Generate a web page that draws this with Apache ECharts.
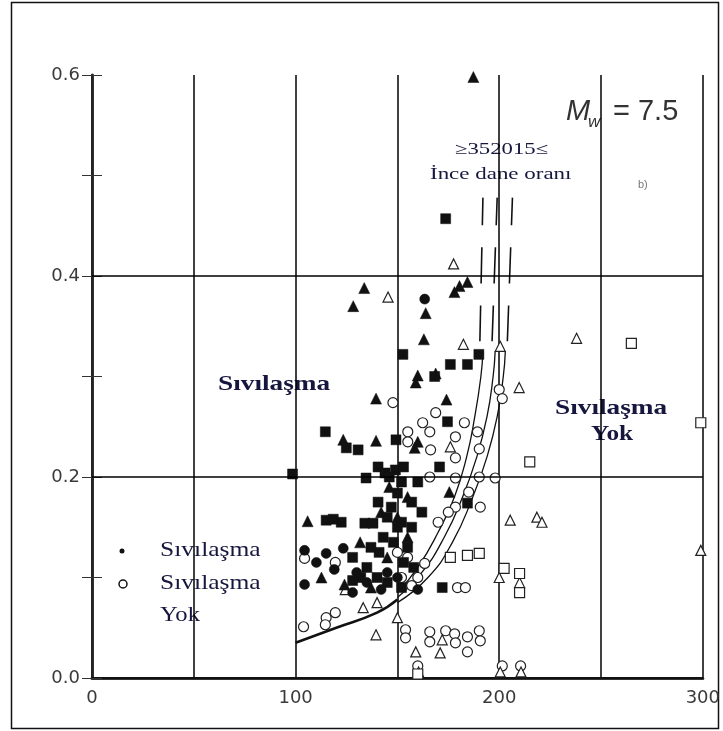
<!DOCTYPE html>
<html>
<head>
<meta charset="utf-8">
<script src="https://cdn.jsdelivr.net/npm/echarts@6/dist/echarts.min.js"></script>
<style>
html,body{margin:0;padding:0;background:#fff;}
#main{width:723px;height:731px;}
</style>
</head>
<body>
<div id="main"></div>
<script>
// eksen
var xTicks=[0,100,200,300];
var yTicks=[0.0,0.2,0.4,0.6];
var yGrid=[0.2,0.4];

// Sıvılaşma (dolu işaretler)
var sivTri=[[187.3,0.598],[133.7,0.388],[128.3,0.370],[184.4,0.394],[178,0.384],[180.5,0.390],[163.9,0.363],[163,0.337],
	[160,0.301],[168.8,0.303],[159,0.294],[174.1,0.277],[139.5,0.278],[123.4,0.237],[139.5,0.236],[160,0.235],[158.5,0.229],
	[105.9,0.156],[131.7,0.135],[112.7,0.100],[124,0.093],[150,0.16],[155,0.14],[145,0.12],[137,0.09],[175.5,0.185],[142,0.165],
	[146,0.19],[155,0.18]];
var sivSq=[[173.7,0.457],[152.7,0.322],[176,0.312],[184.4,0.312],[190,0.322],[168.3,0.300],[174.6,0.255],[114.6,0.245],
	[124.9,0.229],[130.7,0.227],[149.3,0.237],[98.5,0.203],[134.6,0.199],[140.5,0.210],[143.9,0.204],[149,0.207],[153,0.21],
	[170.7,0.210],[115,0.157],[122.4,0.155],[118.5,0.158],[140.5,0.175],[134,0.154],[138,0.154],[147,0.17],[157,0.175],
	[184.4,0.174],[150,0.184],[160,0.195],[162,0.165],[145,0.16],[150,0.15],[155,0.13],[140,0.1],[135,0.11],[145,0.095],
	[152,0.09],[158,0.11],[172,0.09],[148,0.135],[141,0.125],[132,0.1],[128,0.097],[153,0.115],[128,0.12],[137,0.13],
	[143,0.14],[152,0.155],[157,0.15],[152,0.195],[146,0.2]];
var sivCir=[[163.4,0.377],[104.4,0.127],[104.4,0.093],[110.2,0.115],[115,0.124],[123.4,0.129],[119,0.108],[130,0.105],
	[135,0.095],[145,0.105],[128,0.085],[160,0.088],[142,0.088],[150,0.1]];

// Sıvılaşma yok (boş işaretler)
var yokCir=[[147.8,0.274],[168.8,0.264],[162.4,0.254],[165.9,0.245],[182.9,0.254],[178.5,0.240],[155.1,0.245],[189.3,0.245],
	[190.2,0.228],[166.3,0.227],[178.5,0.219],[165.9,0.200],[178.5,0.199],[190.2,0.200],[198,0.199],[200,0.287],[201.5,0.278],
	[155.1,0.235],[190.7,0.170],[178.5,0.170],[163.4,0.114],[179.5,0.090],[183.4,0.090],[104.4,0.119],[119.5,0.115],
	[103.9,0.051],[115,0.060],[119.5,0.065],[114.6,0.053],[154,0.048],[154,0.040],[165.9,0.046],[165.9,0.036],[173.7,0.047],
	[178.1,0.044],[178.5,0.035],[184.4,0.041],[184.4,0.026],[190.2,0.047],[190.7,0.037],[152,0.1],[157,0.092],[160,0.1],
	[150,0.125],[155,0.12],[170,0.155],[175,0.165],[185,0.185],[160,0.012],[201.5,0.012],[210.5,0.012]];
var yokTri=[[145.4,0.379],[177.6,0.412],[182.4,0.332],[200.5,0.330],[209.8,0.289],[238,0.338],[205.4,0.157],[218.5,0.160],
	[221,0.155],[299,0.127],[124.4,0.088],[133.2,0.070],[139.5,0.043],[172,0.038],[159,0.026],[171,0.025],[176,0.23],
	[200,0.1],[160.4,0.006],[200.5,0.006],[210.7,0.006],[210,0.095],[150,0.06],[140,0.075]];
var yokSq=[[264.9,0.333],[299,0.254],[215,0.215],[184.4,0.122],[190.2,0.124],[176,0.120],[202.4,0.109],[210,0.104],
	[210,0.085],[160,0.004]];

// sınır eğrileri
var egriOrtak=[[100,0.035],[120,0.05],[140,0.065],[150,0.078]];
var egri35=[[150,0.085],[160,0.11],[170,0.145],[178,0.18],[184,0.22],[188,0.26],[191,0.3],[192,0.325]];
var egri15=[[150,0.08],[162,0.105],[173,0.14],[182,0.18],[189,0.22],[194,0.26],[197,0.3],[198,0.325]];
var egri5=[[150,0.075],[165,0.1],[177,0.135],[187,0.18],[194,0.22],[199,0.26],[202,0.3],[203,0.325]];
var kesik35=[[190.5,0.335],[192,0.478]];
var kesik15=[[196.5,0.335],[199,0.478]];
var kesik5=[[204,0.335],[206.5,0.478]];

var labelFont='"DejaVu Sans", sans-serif';
var mwFont='"Liberation Sans", Arial, sans-serif';
var serif='"Liberation Serif", "DejaVu Serif", serif';
var navy='#16163e';

function solid(name,sym,data,size){
	return {name:name,type:'scatter',symbol:sym,symbolSize:size,data:data,
		itemStyle:{color:'#111',borderColor:'#111',borderWidth:0.5,opacity:1},z:4};
}
function hollow(name,sym,data,size){
	return {name:name,type:'scatter',symbol:sym,symbolSize:size,data:data,
		itemStyle:{color:'#fff',borderColor:'#222',borderWidth:1.2,opacity:1},z:3};
}
function curve(data,w,dash){
	return {type:'line',data:data,smooth:true,symbol:'none',silent:true,
		lineStyle:{color:'#111',width:w,type:dash?[36,22]:'solid'},z:2};
}
//yazılar (yatay gerilmiş)
function yazi(x,y,text,font,sx){
	return {type:'text',x:x,y:y,scaleX:sx||1,silent:true,
		style:{text:text,font:font,fill:navy,verticalAlign:'middle'}};
}
//sadece çentikli y ekseni (içe)
function centikEksen(pos,lineW){
	return {
		type:'value',min:0,max:0.6,interval:0.1,position:pos,offset:0,
		axisLine:{show:lineW>0,lineStyle:{color:'#222',width:lineW||1}},
		axisTick:{show:true,inside:true,length:10,lineStyle:{color:'#333',width:1}},
		axisLabel:{show:false},splitLine:{show:false}
	};
}

var myChart=echarts.init(document.getElementById('main'));
myChart.setOption({
	backgroundColor:'#fff',
	animation:false,
	grid:{left:92,top:75,right:16,bottom:53},
	xAxis:[{
		type:'value',min:0,max:300,interval:50,
		axisLine:{lineStyle:{color:'#333',width:3}},
		axisTick:{show:false},
		axisLabel:{color:'#3a3a3a',fontSize:18,fontFamily:labelFont,margin:11,
			formatter:function(v){return xTicks.indexOf(v)>=0?String(v):'';}},
		splitLine:{show:true,lineStyle:{color:'#000',width:1.5}}
	},{
		type:'value',min:0,max:300,position:'top',
		axisLine:{show:true,lineStyle:{color:'#111',width:2}},
		axisTick:{show:false},axisLabel:{show:false},splitLine:{show:false}
	}],
	yAxis:[{
		type:'value',min:0,max:0.6,interval:0.1,position:'left',
		axisLine:{show:true,lineStyle:{color:'#333',width:3}},
		axisTick:{show:false},
		axisLabel:{color:'#3a3a3a',fontSize:18,fontFamily:labelFont,margin:12,
			formatter:function(v){
				var s=Math.round(v*10)/10;
				return yTicks.indexOf(s)>=0?s.toFixed(1):'';
			}},
		splitLine:{show:false}
	},
	centikEksen('right',2),
	centikEksen('left',0)
	],
	series:[
		{type:'line',data:[],silent:true,
			markLine:{silent:true,symbol:'none',label:{show:false},animation:false,
				lineStyle:{color:'#000',width:1.5,type:'solid'},
				data:yGrid.map(function(v){return {yAxis:v};})}},
		curve(egriOrtak,2.6,false),
		curve(egri35,1.3,false),
		curve(egri15,1.3,false),
		curve(egri5,1.3,false),
		curve(kesik35,1.6,true),
		curve(kesik15,1.6,true),
		curve(kesik5,1.6,true),
		hollow('yokCir','circle',yokCir,10),
		hollow('yokTri','triangle',yokTri,10),
		hollow('yokSq','rect',yokSq,10),
		solid('sivTri','triangle',sivTri,11),
		solid('sivSq','rect',sivSq,10),
		solid('sivCir','circle',sivCir,10)
	],
	graphic:[
		{type:'rect',shape:{x:11.5,y:2.5,width:707,height:726},style:{fill:null,stroke:'#111',lineWidth:1.5},silent:true},
		{type:'text',x:566,y:112,silent:true,style:{text:'M',font:'italic 29px '+mwFont,fill:'#333',verticalAlign:'middle'}},
		{type:'text',x:588,y:122,silent:true,style:{text:'w',font:'italic 17px '+mwFont,fill:'#333',verticalAlign:'middle'}},
		{type:'text',x:613,y:112,silent:true,style:{text:'= 7.5',font:'29px '+mwFont,fill:'#333',verticalAlign:'middle'}},
		yazi(455,150,'≥352015≤','16px '+serif,1.42),
		yazi(430,175,'İnce dane oranı','17px '+serif,1.35),
		{type:'text',x:638,y:185,silent:true,style:{text:'b)',font:'11px '+mwFont,fill:'#777',verticalAlign:'middle'}},
		yazi(218,384,'Sıvılaşma','bold 22px '+serif,1.24),
		yazi(555,408,'Sıvılaşma','bold 22px '+serif,1.24),
		yazi(591,434,'Yok','bold 22px '+serif,1.15),
		{type:'circle',shape:{cx:122,cy:551,r:2.5},style:{fill:'#111'},silent:true},
		{type:'circle',shape:{cx:123,cy:584,r:4},style:{fill:'#fff',stroke:'#111',lineWidth:1.5},silent:true},
		yazi(160,550,'Sıvılaşma','22px '+serif,1.16),
		yazi(160,583,'Sıvılaşma','22px '+serif,1.16),
		yazi(160,615,'Yok','22px '+serif,1.12)
	]
});
</script>
</body>
</html>
